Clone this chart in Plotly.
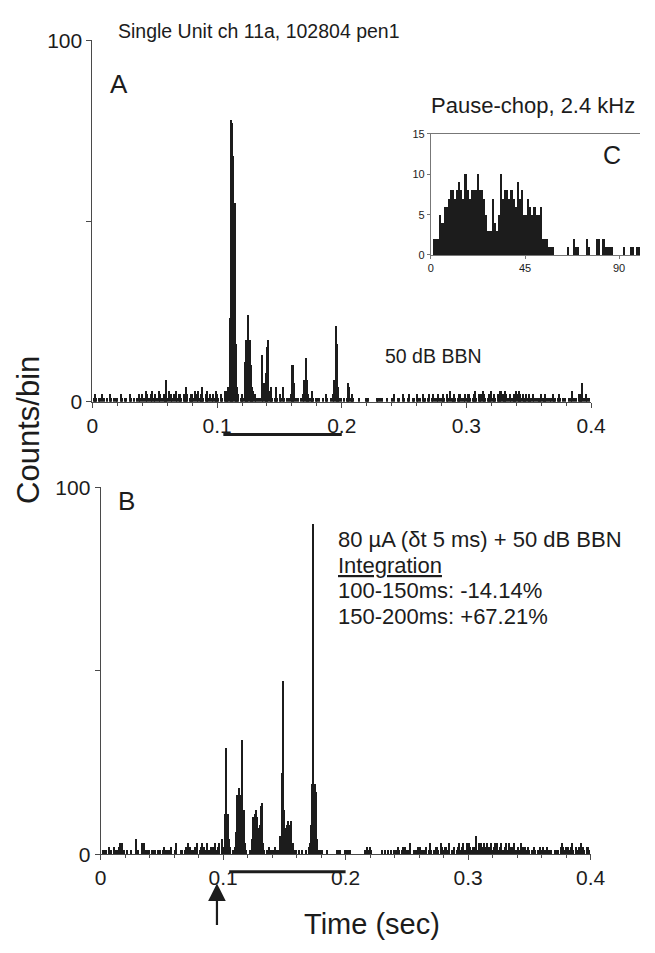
import plotly.graph_objects as go

# ---------------- data ----------------
BIN_S = 0.001          # 1 ms bins for the PSTHs (A, B)
BIN_MS = 1.0           # 1 ms bins for the inset (C)

# A: 50 dB BBN alone, counts per 1 ms bin, 0-400 ms
counts_a = [
    0, 1, 2, 1, 0, 1, 1, 0, 2, 1, 0, 0, 1, 0, 2, 1, 0, 1, 0, 1,
    1, 0, 0, 2, 1, 0, 1, 1, 0, 0, 2, 1, 0, 1, 0, 0, 1, 2, 1, 0,
    2, 1, 0, 3, 2, 1, 0, 2, 3, 1, 2, 0, 1, 3, 2, 0, 1, 2, 1, 6,
    1, 3, 0, 2, 1, 2, 0, 3, 1, 2, 2, 1, 0, 2, 1, 4, 2, 0, 1, 2,
    2, 1, 3, 0, 2, 3, 1, 2, 4, 1, 0, 2, 3, 1, 2, 0, 1, 2, 1, 3,
    2, 1, 0, 2, 1, 0, 3, 2, 3, 4, 23, 78, 77, 68, 55, 16, 4, 2, 0, 1,
    2, 1, 11, 17, 17, 24, 17, 10, 4, 3, 2, 1, 0, 1, 1, 0, 13, 5, 5, 8,
    15, 17, 3, 4, 1, 0, 1, 4, 1, 0, 2, 1, 0, 4, 1, 0, 1, 0, 1, 2,
    10, 10, 5, 1, 0, 1, 0, 1, 0, 2, 6, 12, 6, 2, 1, 1, 3, 1, 0, 1,
    1, 0, 1, 0, 0, 1, 0, 2, 1, 0, 0, 1, 0, 2, 6, 21, 16, 4, 1, 1,
    0, 0, 1, 0, 1, 5, 4, 1, 2, 1, 0, 0, 0, 0, 1, 0, 0, 0, 0, 1,
    1, 1, 0, 0, 0, 0, 0, 0, 1, 1, 0, 1, 1, 0, 0, 0, 1, 0, 0, 0,
    1, 0, 2, 0, 0, 1, 1, 0, 0, 2, 1, 0, 0, 1, 2, 0, 0, 1, 1, 0,
    2, 1, 0, 1, 0, 2, 1, 1, 0, 1, 2, 0, 1, 2, 0, 1, 1, 2, 0, 1,
    1, 2, 1, 0, 2, 1, 0, 3, 1, 1, 2, 1, 0, 1, 2, 2, 1, 0, 1, 2,
    1, 2, 2, 1, 0, 1, 2, 3, 1, 0, 2, 1, 2, 3, 2, 1, 0, 1, 2, 2,
    3, 1, 2, 1, 0, 2, 2, 3, 3, 2, 1, 3, 2, 1, 0, 2, 1, 1, 2, 1,
    3, 2, 3, 2, 1, 2, 1, 1, 2, 1, 2, 1, 1, 2, 1, 0, 1, 1, 1, 1,
    2, 1, 1, 2, 1, 1, 0, 1, 1, 2, 1, 1, 0, 1, 2, 1, 0, 1, 0, 1,
    0, 0, 1, 0, 1, 3, 1, 0, 1, 0, 2, 1, 2, 5, 1, 0, 2, 1, 1, 0,
]

# B: 80 uA stimulation (dt 5 ms) + 50 dB BBN, counts per 1 ms bin
counts_b = [
    0, 1, 0, 1, 1, 0, 2, 1, 1, 0, 2, 1, 0, 1, 2, 3, 0, 3, 1, 0,
    0, 1, 0, 0, 1, 0, 0, 0, 4, 0, 1, 0, 0, 3, 1, 3, 1, 0, 1, 1,
    0, 1, 0, 1, 1, 0, 1, 0, 1, 0, 1, 2, 0, 1, 1, 0, 1, 2, 0, 0,
    1, 3, 0, 0, 0, 1, 1, 0, 1, 2, 1, 3, 2, 1, 0, 1, 2, 1, 3, 0,
    1, 2, 3, 0, 2, 1, 3, 0, 1, 2, 1, 2, 2, 3, 1, 2, 3, 0, 4, 2,
    2, 11, 29, 11, 4, 2, 0, 1, 0, 2, 6, 16, 18, 16, 13, 31, 12, 3, 1, 0,
    0, 1, 1, 4, 10, 11, 12, 10, 7, 8, 13, 14, 3, 1, 0, 1, 0, 2, 1, 0,
    1, 0, 2, 1, 0, 1, 5, 22, 47, 12, 7, 8, 9, 8, 8, 9, 3, 1, 0, 1,
    0, 1, 0, 0, 1, 0, 0, 1, 0, 2, 3, 8, 19, 90, 19, 17, 4, 1, 1, 0,
    1, 0, 0, 0, 1, 0, 0, 0, 0, 0, 0, 0, 1, 1, 0, 1, 0, 0, 0, 1,
    1, 0, 1, 1, 0, 0, 0, 0, 0, 0, 0, 0, 0, 0, 0, 1, 1, 2, 1, 2,
    1, 0, 0, 0, 0, 0, 0, 0, 0, 1, 0, 1, 0, 0, 1, 0, 1, 0, 0, 1,
    1, 0, 2, 1, 0, 1, 2, 0, 2, 1, 0, 1, 3, 0, 0, 1, 0, 1, 2, 0,
    2, 0, 1, 1, 0, 2, 0, 1, 3, 1, 0, 1, 0, 2, 2, 1, 0, 3, 2, 1,
    2, 2, 0, 1, 3, 0, 1, 1, 2, 0, 1, 2, 3, 1, 2, 3, 1, 1, 3, 2,
    3, 2, 1, 2, 1, 2, 5, 1, 3, 3, 3, 2, 3, 1, 2, 3, 2, 1, 3, 1,
    2, 3, 1, 3, 1, 2, 3, 0, 1, 2, 3, 1, 0, 3, 2, 1, 2, 3, 1, 1,
    2, 1, 3, 1, 2, 0, 2, 1, 2, 1, 0, 1, 1, 2, 1, 0, 1, 0, 2, 1,
    2, 1, 1, 0, 2, 1, 0, 1, 0, 0, 1, 1, 0, 1, 0, 2, 3, 2, 1, 2,
    0, 2, 1, 2, 3, 1, 0, 2, 1, 0, 2, 3, 1, 2, 1, 0, 2, 2, 1, 0,
]

# C: pause-chop response to 2.4 kHz tone, counts per 1 ms bin, 0-100 ms
counts_c = [
    0, 2, 2, 2, 5, 4, 6, 6, 7, 8, 8, 7, 8, 9, 8, 7, 10, 8, 7, 8,
    8, 8, 10, 8, 8, 7, 5, 3, 3, 7, 4, 3, 5, 10, 7, 8, 8, 7, 8, 7,
    6, 9, 7, 8, 5, 5, 7, 6, 5, 6, 5, 5, 6, 2, 2, 2, 1, 1, 1, 0,
    0, 0, 0, 0, 0, 1, 0, 0, 2, 1, 1, 0, 0, 0, 2, 1, 0, 0, 0, 2,
    2, 0, 2, 1, 1, 1, 1, 0, 0, 0, 0, 0, 1, 0, 0, 1, 1, 0, 1, 1,
]

time_ticks = [0, 0.1, 0.2, 0.3, 0.4]
time_labels = ["0", "0.1", "0.2", "0.3", "0.4"]
count_ticks = [0, 50, 100]
count_labels = ["0", "", "100"]
inset_xticks = [0, 45, 90]
inset_yticks = [0, 5, 10, 15]

stim_on, stim_off = 0.105, 0.2      # BBN bar under each time axis
shock_time = 0.095                  # electrical stimulation (arrow)

# ---------------- figure ----------------
W, H = 655, 953
FONT = "Liberation Sans, Arial, sans-serif"
INK = "#1c1c1c"
AXC = "#4a4a4a"


def px(x):
    return x / W


def py(y):
    return 1 - y / H


t_a = [(i + 0.5) * BIN_S for i in range(len(counts_a))]
t_b = [(i + 0.5) * BIN_S for i in range(len(counts_b))]
t_c = [(i + 0.5) * BIN_MS for i in range(len(counts_c))]

fig = go.Figure()
bar_style = dict(marker=dict(color=INK, line=dict(width=0)), showlegend=False,
                 hoverinfo="skip")
fig.add_trace(go.Bar(x=t_a, y=counts_a, width=BIN_S, xaxis="x", yaxis="y", **bar_style))
fig.add_trace(go.Bar(x=t_b, y=counts_b, width=BIN_S, xaxis="x2", yaxis="y2", **bar_style))
fig.add_trace(go.Bar(x=t_c, y=counts_c, width=BIN_MS, xaxis="x3", yaxis="y3", **bar_style))


def time_axis(domain, anchor):
    return dict(domain=domain, anchor=anchor, range=[0, 0.4], showgrid=False,
                zeroline=False, showline=True, linecolor=AXC, linewidth=1,
                ticks="outside", ticklen=5, tickwidth=1, tickcolor=AXC,
                tickvals=time_ticks, ticktext=time_labels,
                tickfont=dict(size=21, color=INK, family=FONT),
                minor=dict(dtick=0.02, tick0=0, ticks="outside", ticklen=3,
                           tickcolor=AXC, showgrid=False))


def count_axis(domain, anchor):
    return dict(domain=domain, anchor=anchor, range=[0, 100], showgrid=False,
                zeroline=False, showline=True, linecolor=AXC, linewidth=1,
                ticks="outside", ticklen=5, tickwidth=1, tickcolor=AXC,
                tickvals=count_ticks, ticktext=count_labels,
                tickfont=dict(size=21, color=INK, family=FONT))


fig.update_layout(
    width=W, height=H,
    margin=dict(l=0, r=0, t=0, b=0),
    paper_bgcolor="white", plot_bgcolor="rgba(0,0,0,0)",
    bargap=0,
    font=dict(family=FONT, color=INK),
    xaxis=time_axis([px(89.3), px(604.5)], "y"),
    yaxis=count_axis([py(399.5), py(29)], "x"),
    xaxis2=time_axis([px(97.7), px(604)], "y2"),
    yaxis2=count_axis([py(863), py(487)], "x2"),
    xaxis3=dict(domain=[px(439), 1.0], anchor="y3", range=[0, 100], showgrid=False,
                zeroline=False, showline=True, mirror=True, linecolor="#777",
                linewidth=1, ticks="outside", ticklen=3, tickcolor="#777",
                tickvals=inset_xticks, tickfont=dict(size=11, color=INK)),
    yaxis3=dict(domain=[py(249), py(125)], anchor="x3", range=[0, 15], showgrid=False,
                zeroline=False, showline=True, linecolor="#777", linewidth=1,
                ticks="outside", ticklen=3, tickcolor="#777",
                tickvals=inset_yticks, tickfont=dict(size=11, color=INK)),
)

# stimulus duration bars under the time axes
fig.add_shape(type="line", xref="x", yref="paper", x0=stim_on, x1=stim_off,
              y0=py(433), y1=py(433), line=dict(color=INK, width=3))
fig.add_shape(type="line", xref="x2", yref="paper", x0=stim_on, x1=stim_off,
              y0=py(881), y1=py(881), line=dict(color=INK, width=3))


def label(text, x, y, size, xanchor="left", yanchor="middle", angle=0):
    fig.add_annotation(text=text, x=px(x), y=py(y), xref="paper", yref="paper",
                       xanchor=xanchor, yanchor=yanchor, showarrow=False,
                       textangle=angle, font=dict(size=size, color=INK, family=FONT))


label("Single Unit ch 11a, 102804 pen1", 114, 19, 19.5)
label("A", 105, 74, 26)
label("B", 114, 501, 26)
label("C", 615, 147, 25)
label("Pause-chop, 2.4 kHz", 437, 96, 22)
label("50 dB BBN", 389, 352, 19.5)
label("80 \u00b5A (\u03b4t 5 ms) + 50 dB BBN", 341, 541, 22)
label("<u>Integration</u>", 341, 567, 22)
label("100-150ms: -14.14%", 341, 593, 22)
label("150-200ms: +67.21%", 341, 619, 22)
label("Time (sec)", 378, 935, 29, xanchor="center")
label("Counts/bin", 23, 428, 31, xanchor="center", angle=-90)

# stimulation onset arrow
fig.add_annotation(x=shock_time, xref="x2", y=py(893), yref="paper", text="",
                   showarrow=True, ax=0, ay=43, arrowhead=2, arrowsize=1.6,
                   arrowwidth=2.2, arrowcolor=INK, standoff=0)

fig.write_html("out.html")
